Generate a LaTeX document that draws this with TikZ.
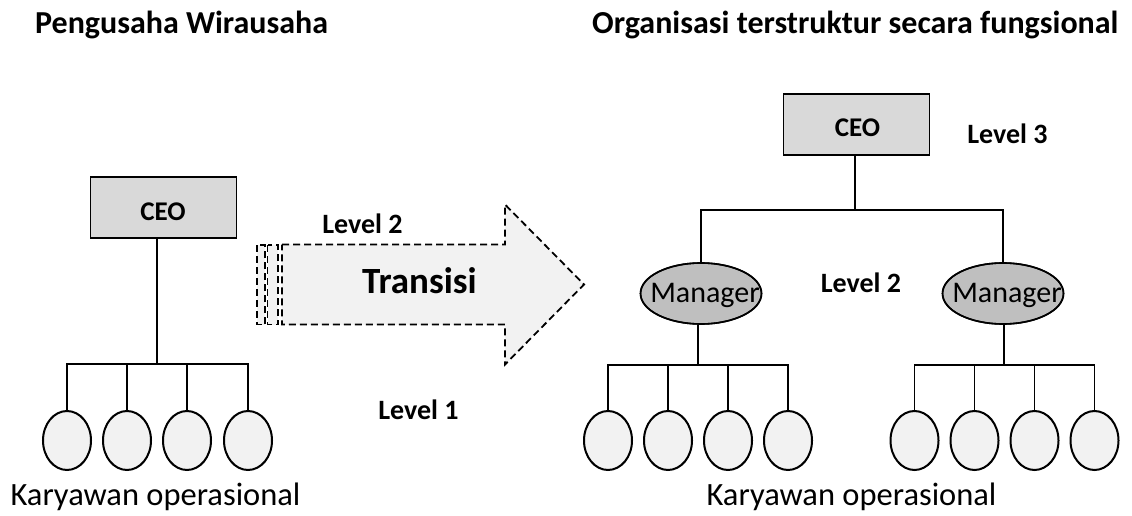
\documentclass[tikz,border=0pt]{standalone}
\usepackage{fontspec}
\setmainfont{Carlito}
\definecolor{boxgray}{HTML}{D9D9D9}
\definecolor{mgrgray}{HTML}{BFBFBF}
\definecolor{light}{HTML}{F2F2F2}
\usetikzlibrary{shapes.geometric}
\tikzset{
  ceobox/.style={draw=black, line width=1.8pt, fill=boxgray, minimum width=146pt, minimum height=61pt, inner sep=0pt},
  ceotxt/.style={font=\fontsize{27}{30}\selectfont\bfseries, inner sep=0pt, anchor=base},
  mgr/.style={ellipse, draw=black, line width=1.6pt, fill=mgrgray, minimum width=121pt, minimum height=61pt, inner sep=0pt},
  mgrtxt/.style={font=\fontsize{30}{32}\selectfont, inner sep=0pt, anchor=base},
  emp/.style={ellipse, draw=black, line width=2pt, fill=light, minimum width=48pt, minimum height=59pt, inner sep=0pt},
  conn/.style={draw=black, line width=1.2pt},
  lvl/.style={font=\fontsize{28}{32}\selectfont\bfseries, inner sep=0pt, anchor=base},
  ttl/.style={font=\fontsize{32}{36}\selectfont\bfseries, inner sep=0pt, anchor=base west},
  captxt/.style={font=\fontsize{32.5}{36}\selectfont, inner sep=0pt, anchor=base},
  dsh/.style={draw=black, line width=1.8pt, dash pattern=on 7pt off 4pt, fill=light},
}
\begin{document}
\begin{tikzpicture}[x=1pt,y=-1pt]
\useasboundingbox[fill=white] (0,0) rectangle (1132,516);
% titles
\node[ttl] (t1) at (35,33.5) {Pengusaha Wirausaha};
\node[ttl] (t2) at (592,33.5) {Organisasi terstruktur secara fungsional};
% left tree
\node[ceobox] (ceoL) at (163.5,207.5) {};
\node[ceotxt] (ceoLt) at (163,220) {CEO};
\coordinate (jL) at (157,364);
\foreach \i/\x in {1/67,2/127,3/187,4/248}{
  \node[emp] (eL\i) at (\x,440.5) {};
  \draw[conn] (eL\i.north) |- (jL);
}
\draw[conn] (ceoL.south -| jL) -- (jL);
% transition arrow
\draw[dsh] (257,245) rectangle (265,324.5);
\draw[dsh] (267.5,245) rectangle (278,324.5);
\draw[dsh] (282,244.5) -- (505,244.5) -- (505,204.5) -- (584,284.5) -- (505,364.5) -- (505,324.5) -- (282,324.5) -- cycle;
\node[font=\fontsize{37}{42}\selectfont\bfseries, inner sep=0pt, anchor=base] (tr) at (419.5,293.5) {Transisi};
\node[lvl] (l2a) at (362.5,233.5) {Level 2};
\node[lvl] (l1) at (418.5,419) {Level 1};
% right tree
\node[ceobox] (ceoR) at (856.5,124.5) {};
\node[ceotxt] (ceoRt) at (857.5,136) {CEO};
\coordinate (jR) at (855,210);
\node[lvl] (l3) at (1007.5,143) {Level 3};
\node[lvl] (l2b) at (861,292) {Level 2};
\node[mgr] (m1) at (701,293.5) {};
\node[mgr] (m2) at (1003,293.5) {};
\node[mgrtxt] (m1t) at (705,302) {Manager};
\node[mgrtxt] (m2t) at (1007,302) {Manager};
\draw[line width=1.6pt] (m1.center) ellipse (60.5pt and 30.5pt);
\draw[line width=1.6pt] (m2.center) ellipse (60.5pt and 30.5pt);
\draw[conn] (ceoR.south -| jR) -- (jR);
\draw[conn] (m1.north) |- (jR);
\draw[conn] (m2.north) |- (jR);
\coordinate (j1) at (698,365);
\coordinate (j2) at (1004,365);
\draw[conn] (m1.south -| j1) -- (j1);
\draw[conn] (m2.south -| j2) -- (j2);
\foreach \i/\x in {1/608,2/668,3/728,4/788}{
  \node[emp] (ea\i) at (\x,440.5) {};
  \draw[conn] (ea\i.north) |- (j1);
}
\foreach \i/\x in {1/914.5,2/974.5,3/1034.5,4/1094.5}{
  \node[emp] (eb\i) at (\x,440.5) {};
  \draw[conn] (eb\i.north) |- (j2);
}
% captions
\node[captxt] (c1) at (155.5,505.5) {Karyawan operasional};
\node[captxt] (c2) at (851.5,505.5) {Karyawan operasional};
\end{tikzpicture}
\end{document}
